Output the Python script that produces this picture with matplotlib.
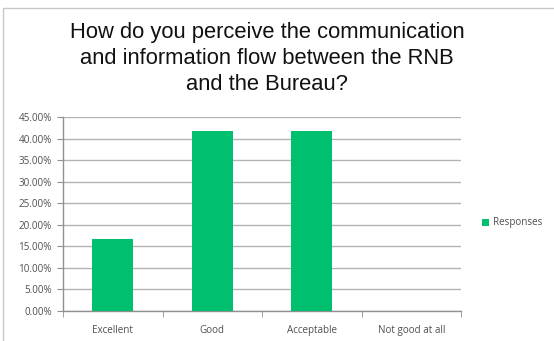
import matplotlib.pyplot as plt
from matplotlib.ticker import PercentFormatter
import numpy as np

categories = ["Excellent", "Good", "Acceptable", "Not good at all"]
responses = [16.67, 41.67, 41.67, 0.0]
series_name = "Responses"
title = "How do you perceive the communication\nand information flow between the RNB\nand the Bureau?"

bar_color = "#00BF6F"
grid_color = "#B3B3B3"
tick_font = "Open Sans"

fig = plt.figure(figsize=(5.54, 3.41), dpi=100)

# outer frame (only left/top edges fall inside the image)
fig.add_artist(plt.Rectangle((3 / 554, -0.1), 1.2, 1.1 - 8 / 341,
                             transform=fig.transFigure, fill=False,
                             edgecolor="#C8C8C8", linewidth=1.0))

ax = fig.add_axes([63 / 554, 1 - 311 / 341, 398 / 554, 194 / 341])

x = np.arange(len(categories))
ax.bar(x, responses, width=0.41, color=bar_color, label=series_name, zorder=3)

ax.set_xlim(-0.5, len(categories) - 0.5)
ax.set_ylim(0, 45)
ax.set_yticks(np.arange(0, 46, 5))
ax.yaxis.set_major_formatter(PercentFormatter(decimals=2))
ax.yaxis.grid(True, color=grid_color, linewidth=1.0, zorder=0)

ax.set_xticks(x)
ax.set_xticklabels(categories)
ax.set_xticks(np.arange(-0.5, len(categories)), minor=True)
ax.tick_params(axis="x", which="major", length=0, pad=10)
ax.tick_params(axis="x", which="minor", length=4, color="#909090", direction="out")
ax.tick_params(axis="y", length=4, color="#909090", pad=4)

for lbl in ax.get_xticklabels() + ax.get_yticklabels():
    lbl.set_fontfamily(tick_font)
    lbl.set_fontsize(7.1)
    lbl.set_color("#505050")

for side in ("top", "right"):
    ax.spines[side].set_visible(False)
for side in ("left", "bottom"):
    ax.spines[side].set_color("#909090")
    ax.spines[side].set_linewidth(1.0)

fig.text(0.482, 0.829, title, ha="center", va="center", fontsize=15.8,
         family="Liberation Sans", color="#111111", linespacing=1.32)

leg = fig.legend(loc="center left", bbox_to_anchor=(473 / 554, 1 - 223 / 341),
                 frameon=False, handlelength=0.7, handleheight=0.7,
                 handletextpad=0.4, prop={"family": tick_font, "size": 7.1})
for t in leg.get_texts():
    t.set_color("#505050")

fig.savefig("out.png", dpi=100)
